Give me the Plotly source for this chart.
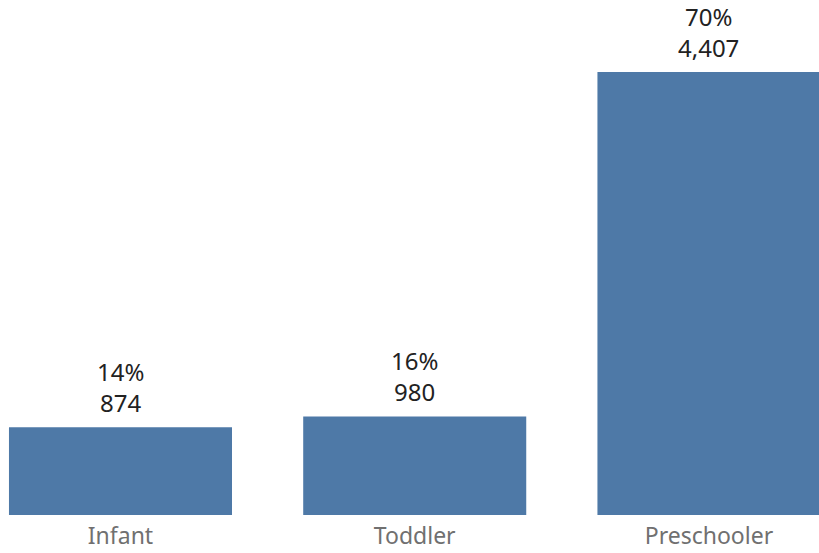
import plotly.graph_objects as go

categories = ["Infant", "Toddler", "Preschooler"]
counts = [874, 980, 4407]
percents = ["14%", "16%", "70%"]

BAR_COLOR = "#4e79a7"
FONT = "Noto Sans"

fig = go.Figure()
fig.add_trace(go.Bar(
    x=list(range(len(categories))),
    y=counts,
    width=0.758,
    marker=dict(color=BAR_COLOR, line=dict(width=0)),
    hoverinfo="skip",
))

for i, (c, p) in enumerate(zip(counts, percents)):
    fig.add_annotation(
        x=i, y=c, text=f"{p}<br>{c:,}", showarrow=False,
        yanchor="bottom", yshift=6,
        font=dict(family=FONT, size=24, color="#222222"),
    )

fig.update_layout(
    width=819, height=553,
    margin=dict(l=0, r=0, t=0, b=38),
    paper_bgcolor="white", plot_bgcolor="white",
    showlegend=False,
    xaxis=dict(
        range=[-0.4095, 2.374],
        tickmode="array",
        tickvals=list(range(len(categories))),
        ticktext=categories,
        showgrid=False, zeroline=False, showline=False,
        tickfont=dict(family=FONT, size=23, color="#707070"),
        ticks="",
        ticklabelstandoff=5,
        automargin=False,
    ),
    yaxis=dict(
        range=[0, 5123],
        visible=False,
        showgrid=False, zeroline=False,
    ),
)

fig.write_html("out.html", config={"displayModeBar": False},
               post_script="document.body.style.margin='0';")
